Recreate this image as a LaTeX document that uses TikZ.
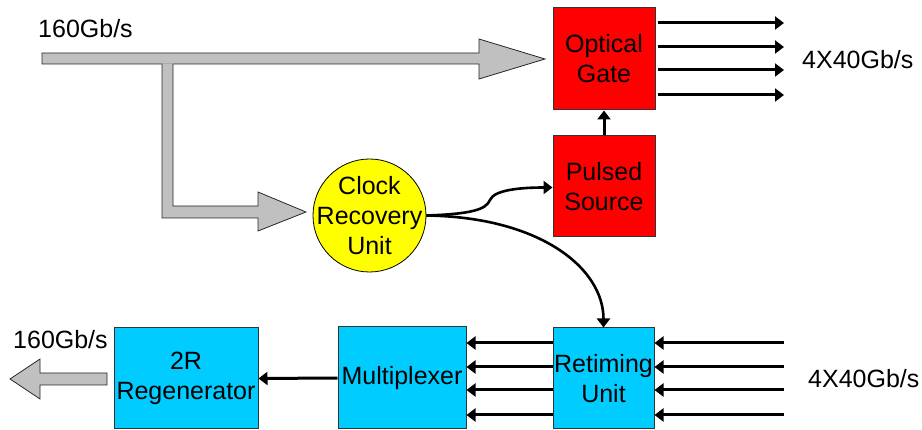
\documentclass[tikz,border=0pt]{standalone}
\usepackage{fontspec}
\setmainfont{Liberation Sans}
\usetikzlibrary{arrows.meta}
\definecolor{gatered}{HTML}{FF0000}
\definecolor{clockyellow}{HTML}{FFFF00}
\definecolor{blockcyan}{HTML}{00CCFF}
\definecolor{pipegray}{HTML}{C0C0C0}
\tikzset{
  lbl/.style={font=\fontsize{25}{30}\selectfont, inner sep=0pt},
  block/.style={draw=black!80, line width=1pt, align=center, inner sep=0pt,
    font=\fontsize{25}{30}\selectfont},
  redblock/.style={block, fill=gatered, minimum width=102pt, minimum height=102pt},
  cyanblock/.style={block, fill=blockcyan},
  sig/.style={line width=3pt, -{Triangle[length=9pt,width=13pt]}},
  pipe/.style={fill=pipegray, draw=black!85, line width=0.8pt, line join=miter},
}
\begin{document}
\begin{tikzpicture}[x=1pt,y=-1pt]
\useasboundingbox (0,0) rectangle (922,430);

% blocks
\node[redblock] (og) at (604,59) {Optical\\Gate};
\node[redblock, minimum height=101pt] (ps) at (604,186.5) {Pulsed\\Source};
\node[circle, draw=black, line width=0.8pt, fill=clockyellow, minimum size=113pt,
      inner sep=-20pt, align=center, font=\fontsize{25}{30}\selectfont]
      (cru) at (369.5,215.5) {Clock\\Recovery\\Unit};
\node[cyanblock, minimum width=101pt, minimum height=101pt] (ret) at (603.5,378.5) {Retiming\\Unit};
\node[cyanblock, minimum width=128pt, minimum height=102pt] (mux) at (402,378) {Multiplexer};
\node[cyanblock, minimum width=144pt, minimum height=101pt] (reg) at (186,378.5) {2R\\Regenerator};

% rate labels
\node[lbl, anchor=base west] (inlbl) at (38,38) {160Gb/s};
\node[lbl, anchor=base west] (outlbl) at (802,69) {4X40Gb/s};
\node[lbl, anchor=base west] (reglbl) at (13,349) {160Gb/s};
\node[lbl, anchor=base west] (retlbl) at (808,388) {4X40Gb/s};

% 160 Gb/s input pipe into the optical gate
\path[pipe] (42,53) -- (479,53) -- (479,39) -- (545,59) -- (479,79) -- (479,64) -- (42,64) -- cycle;
% tapped branch towards the clock recovery
\fill[pipegray] (162,63.5) -- (162,218) -- (258,218) -- (258,231) -- (306,212)
  -- (258,192) -- (258,206) -- (173,206) -- (173,63.5) -- cycle;
\draw[black!85, line width=0.8pt, line join=miter] (162,64) -- (162,218) -- (258,218) -- (258,231)
  -- (306,212) -- (258,192) -- (258,206) -- (173,206) -- (173,64);

% 160 Gb/s regenerated output pipe
\path[pipe] (107,373) -- (40,373) -- (40,359) -- (10,379) -- (40,399) -- (40,385) -- (107,385) -- cycle;

% demultiplexed outputs
\foreach \i/\y in {1/23,2/47,3/70,4/95}{
  \coordinate (o\i) at (784,\y);
  \draw[sig] (og.east |- o\i) ++(2,0) -- (o\i);
}
\draw[sig] (ps.north) -- (og.south);

% clock distribution
\draw[sig, line width=2.6pt] (cru.east) .. controls (470,214) and (486,210) .. (490,200)
  .. controls (494,190) and (520,187.5) .. (ps.west |- 0,187.5);
\draw[sig, line width=2.6pt] (cru.east) .. controls (540,217) and (603.5,268) .. (ret.north);

% 4x40 Gb/s inputs, retiming and multiplexing
\foreach \i/\y in {1/343,2/367,3/390,4/415}{
  \coordinate (r\i) at (784,\y);
  \draw[sig] (r\i) -- (ret.east |- r\i);
  \draw[sig] (ret.west |- r\i) -- (mux.east |- r\i);
}
\draw[sig] (mux.west) -- (reg.east);
\end{tikzpicture}
\end{document}
